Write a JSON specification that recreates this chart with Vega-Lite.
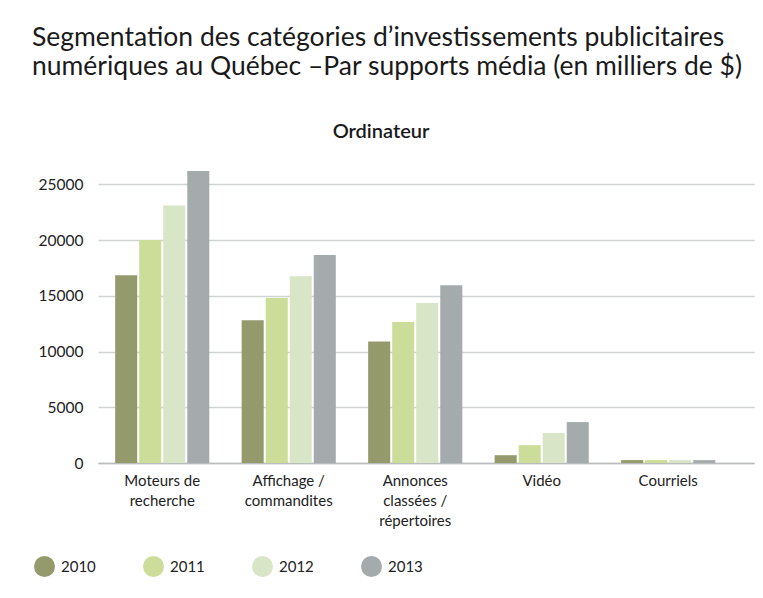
{
  "$schema": "https://vega.github.io/schema/vega-lite/v6.json",
  "padding": {"left": 32, "top": 24, "right": 5, "bottom": 5},
  "background": "white",
  "title": {
    "text": ["Segmentation des catégories d’investissements publicitaires", "numériques au Québec –Par supports média (en milliers de $)"],
    "anchor": "start",
    "frame": "bounds",
    "dx": -2,
    "font": "Lato",
    "fontSize": 26.5,
    "fontWeight": "normal",
    "lineHeight": 29,
    "color": "#1a1a1a",
    "offset": 42
  },
  "data": {
    "values": [
      {"cat": "Moteurs de|recherche", "year": "2010", "value": 16850},
      {"cat": "Moteurs de|recherche", "year": "2011", "value": 20000},
      {"cat": "Moteurs de|recherche", "year": "2012", "value": 23100},
      {"cat": "Moteurs de|recherche", "year": "2013", "value": 26200},
      {"cat": "Affichage /|commandites", "year": "2010", "value": 12800},
      {"cat": "Affichage /|commandites", "year": "2011", "value": 14800},
      {"cat": "Affichage /|commandites", "year": "2012", "value": 16750},
      {"cat": "Affichage /|commandites", "year": "2013", "value": 18650},
      {"cat": "Annonces|classées /|répertoires", "year": "2010", "value": 10900},
      {"cat": "Annonces|classées /|répertoires", "year": "2011", "value": 12650},
      {"cat": "Annonces|classées /|répertoires", "year": "2012", "value": 14350},
      {"cat": "Annonces|classées /|répertoires", "year": "2013", "value": 15950},
      {"cat": "Vidéo", "year": "2010", "value": 700},
      {"cat": "Vidéo", "year": "2011", "value": 1600},
      {"cat": "Vidéo", "year": "2012", "value": 2700},
      {"cat": "Vidéo", "year": "2013", "value": 3670},
      {"cat": "Courriels", "year": "2010", "value": 260},
      {"cat": "Courriels", "year": "2011", "value": 260},
      {"cat": "Courriels", "year": "2012", "value": 260},
      {"cat": "Courriels", "year": "2013", "value": 260}
    ]
  },
  "vconcat": [
    {
      "width": 656,
      "height": 301,
      "title": {
        "text": "Ordinateur",
        "anchor": "middle",
        "frame": "bounds",
        "dx": -15,
        "font": "Lato",
        "fontSize": 20,
        "fontWeight": 600,
        "color": "#1a1a1a",
        "offset": 20
      },
      "mark": {"type": "bar"},
      "encoding": {
        "x": {
          "field": "cat",
          "type": "nominal",
          "sort": null,
          "scale": {"paddingInner": 0.24, "paddingOuter": 0.213, "align": 0.3},
          "axis": {
            "title": null,
            "labelAngle": 0,
            "labelExpr": "split(datum.label, '|')",
            "labelFont": "Lato",
            "labelFontSize": 15,
            "labelColor": "#222222",
            "labelLineHeight": 20,
            "labelPadding": 10,
            "labelBaseline": "top",
            "ticks": false,
            "domain": true,
            "domainColor": "#b9bdbd",
            "domainWidth": 1.5
          }
        },
        "xOffset": {
          "field": "year",
          "type": "nominal",
          "scale": {"paddingInner": 0.083, "paddingOuter": 0.0415}
        },
        "y": {
          "field": "value",
          "type": "quantitative",
          "scale": {"domain": [0, 27000], "nice": false},
          "axis": {
            "title": null,
            "values": [0, 5000, 10000, 15000, 20000, 25000],
            "format": "d",
            "labelFont": "Lato",
            "labelFontSize": 15.5,
            "labelColor": "#222222",
            "labelPadding": 15,
            "ticks": false,
            "domain": false,
            "gridColor": "#d0d3d3",
            "gridWidth": 1.5
          }
        },
        "color": {
          "field": "year",
          "type": "nominal",
          "scale": {
            "domain": ["2010", "2011", "2012", "2013"],
            "range": ["#959a6c", "#cbdd98", "#d9e5c7", "#a5abac"]
          },
          "legend": {
            "title": null,
            "orient": "none",
            "legendX": -64,
            "legendY": 394,
            "direction": "horizontal",
            "symbolType": "circle",
            "symbolSize": 441,
            "symbolOpacity": 1,
            "symbolStrokeWidth": 0,
            "labelFont": "Lato",
            "labelFontSize": 15,
            "labelColor": "#222222",
            "labelOffset": 6,
            "columnPadding": 47
          }
        }
      }
    }
  ],
  "config": {
    "view": {"stroke": null}
  }
}
